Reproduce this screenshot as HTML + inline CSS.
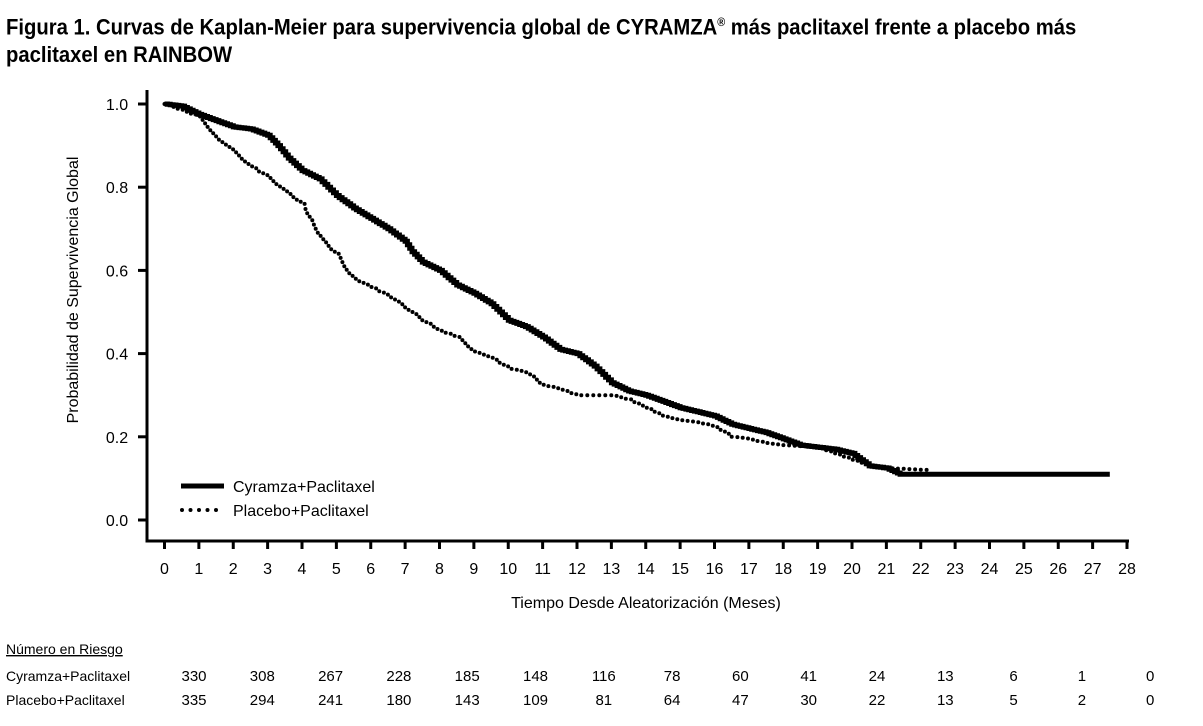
<!DOCTYPE html>
<html><head><meta charset="utf-8"><style>
body{margin:0;background:#fff;width:1203px;height:726px;overflow:hidden;font-family:"Liberation Sans",sans-serif}
.t{position:absolute;left:6px;top:9px;font-size:22.5px;font-weight:bold;line-height:27px;transform:scaleX(0.9);transform-origin:0 0;width:1400px}
</style></head><body>
<div class="t">Figura 1. Curvas de Kaplan-Meier para supervivencia global de CYRAMZA<sup style="font-size:12px">®</sup> más paclitaxel frente a placebo más<br>paclitaxel en RAINBOW</div>
<svg id="s" width="1203" height="726" style="position:absolute;left:0;top:0" font-family="Liberation Sans, sans-serif">
<g stroke="#000" stroke-width="3" fill="none">
<path d="M147,90 V541 H1129"/>
</g>
<g id="tk" stroke="#000" stroke-width="3"></g>
<g id="lab" font-size="16" text-anchor="middle"></g>
<text x="78" y="290" font-size="16" text-anchor="middle" transform="rotate(-90 78 290)">Probabilidad de Supervivencia Global</text>
<text x="646" y="608" font-size="16" text-anchor="middle">Tiempo Desde Aleatorización (Meses)</text>
<line x1="181" y1="486" x2="224" y2="486" stroke="#000" stroke-width="5"/>
<line x1="182" y1="510" x2="224" y2="510" stroke="#000" stroke-width="4" stroke-dasharray="0 8.5" stroke-linecap="round"/>
<text x="233" y="492" font-size="16">Cyramza+Paclitaxel</text>
<text x="233" y="516" font-size="16">Placebo+Paclitaxel</text>
<path id="c1" fill="none" stroke="#000" stroke-width="5"/>
<path id="c2" fill="none" stroke="#000" stroke-width="4" stroke-dasharray="0 6" stroke-linecap="round"/>
<g font-size="14">
<text x="6" y="654" text-decoration="underline">Número en Riesgo</text>
<text x="6" y="681">Cyramza+Paclitaxel</text>
<text x="6" y="705">Placebo+Paclitaxel</text>
</g>
<g id="nr" font-size="15" text-anchor="middle"></g>
</svg>
<script>
var X=function(m){return 164.5+m*34.375},Y=function(p){return 520-p*416};
var tk=document.getElementById('tk'),lab=document.getElementById('lab'),h='',l='';
for(var i=0;i<=28;i++){h+='<line x1="'+X(i)+'" y1="541" x2="'+X(i)+'" y2="549"/>';l+='<text x="'+X(i)+'" y="574">'+i+'</text>';}
for(var j=0;j<=5;j++){var y=Y(j*0.2);h+='<line x1="138" y1="'+y+'" x2="147" y2="'+y+'"/>';l+='<text x="117" y="'+(y+6)+'">'+(j*0.2).toFixed(1)+'</text>';}
tk.innerHTML=h;lab.innerHTML=l;
function path(d){var s='M'+X(d[0][0])+','+Y(d[0][1]);for(var k=1;k<d.length;k++){var x0=d[k-1][0],y0=d[k-1][1],x1=d[k][0],y1=d[k][1];var n=Math.max(1,Math.round((x1-x0)/0.08));if(y1==y0)n=1;for(var m=1;m<=n;m++){s+=' H'+X(x0+(x1-x0)*m/n).toFixed(1)+' V'+Y(y0+(y1-y0)*m/n).toFixed(1);}}return s;}
var a=[[0,1],[0.5,0.995],[1,0.975],[1.5,0.96],[2,0.945],[2.5,0.94],[3,0.925],[3.3,0.9],[3.6,0.87],[4,0.84],[4.5,0.82],[5,0.78],[5.5,0.75],[6,0.725],[6.5,0.70],[7,0.67],[7.2,0.645],[7.5,0.62],[8,0.60],[8.5,0.565],[9,0.545],[9.5,0.52],[10,0.48],[10.5,0.465],[11,0.44],[11.5,0.41],[12,0.40],[12.5,0.37],[13,0.33],[13.5,0.31],[14,0.30],[14.5,0.285],[15,0.27],[15.5,0.26],[16,0.25],[16.5,0.23],[17,0.22],[17.5,0.21],[18,0.195],[18.5,0.18],[19,0.175],[19.5,0.17],[20,0.16],[20.5,0.13],[21,0.125],[21.4,0.11],[27.5,0.11]];
var b=[[0,1],[1,0.97],[1.5,0.92],[2,0.885],[2.5,0.85],[3,0.825],[3.5,0.79],[4,0.76],[4.3,0.71],[4.7,0.66],[5,0.64],[5.3,0.60],[5.5,0.58],[6,0.56],[6.5,0.54],[7,0.51],[7.5,0.48],[8,0.455],[8.5,0.44],[9,0.405],[9.5,0.39],[10,0.365],[10.5,0.355],[11,0.325],[11.5,0.315],[12,0.30],[13,0.30],[13.5,0.29],[14,0.27],[14.5,0.25],[15,0.24],[15.5,0.235],[16,0.225],[16.5,0.20],[17,0.195],[17.5,0.185],[18,0.18],[19,0.175],[19.5,0.16],[20,0.145],[20.5,0.13],[21,0.125],[22.2,0.12]];
document.getElementById('c1').setAttribute('d',path(a));
document.getElementById('c2').setAttribute('d',path(b));
var r1=[330,308,267,228,185,148,116,78,60,41,24,13,6,1,0],r2=[335,294,241,180,143,109,81,64,47,30,22,13,5,2,0],n='';
for(var q=0;q<15;q++){var x=194+q*68.3;n+='<text x="'+x+'" y="681">'+r1[q]+'</text><text x="'+x+'" y="705">'+r2[q]+'</text>';}
document.getElementById('nr').innerHTML=n;
</script>
</body></html>
